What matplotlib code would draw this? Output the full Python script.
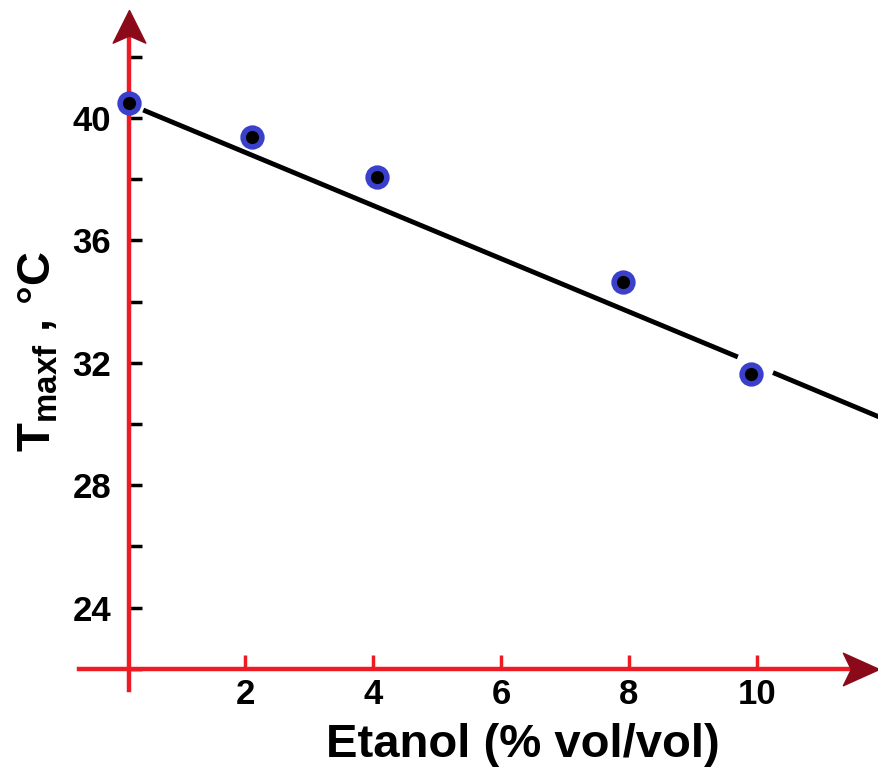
import numpy as np
import matplotlib
matplotlib.use('Agg')
import matplotlib.pyplot as plt
from matplotlib.path import Path

# data
ethanol = [0.19, 2.11, 4.06, 7.9, 9.9]
t_maxf = [40.5, 39.38, 38.07, 34.64, 31.63]
# drawn trend line (broken around the last point)
fit_x = [0.41, 9.7, np.nan, 10.25, 12.0]
fit_y = [40.26, 32.19, np.nan, 31.68, 30.15]
x_ticks = [2, 4, 6, 8, 10]
y_ticks = [24, 28, 32, 36, 40]
y_minor = [22, 26, 30, 34, 38, 42]

red = '#ed1c24'
dark = '#8b0a1a'
blue = '#3a40cc'

plt.rcParams['font.family'] = ['Liberation Sans', 'DejaVu Sans']
plt.rcParams['mathtext.fontset'] = 'custom'
plt.rcParams['mathtext.bf'] = 'Liberation Sans:bold'
plt.rcParams['mathtext.rm'] = 'Liberation Sans:bold'

fig = plt.figure(figsize=(8.79, 7.67), dpi=100)
ax = fig.add_axes([0, 0, 1, 1])
ax.set_xlim(-1.828, 11.906)
ax.set_ylim(18.79, 43.856)

for s in ['top', 'right']:
    ax.spines[s].set_visible(False)
ax.spines['left'].set_position(('data', 0.19))
ax.spines['bottom'].set_position(('data', 22))
ax.spines['left'].set_bounds(21.3, 42.8)
ax.spines['bottom'].set_bounds(-0.6, 11.6)
for s in ['left', 'bottom']:
    ax.spines[s].set_color(red)
    ax.spines[s].set_linewidth(3.2)

ax.set_xticks(x_ticks)
ax.set_yticks(y_ticks)
ax.set_yticks(y_minor, minor=True)
ax.tick_params(axis='x', direction='in', length=10, width=2.5, color=red,
               pad=7, labelsize=25)
ax.tick_params(axis='y', which='both', direction='in', length=9, width=2.5,
               color='black', pad=13, labelsize=25)
for lbl in ax.get_xticklabels() + ax.get_yticklabels():
    lbl.set_fontweight('bold')

# arrow heads
up = Path([(0, 0), (0.5, -1), (0, -0.78), (-0.5, -1), (0, 0)],
          [Path.MOVETO, Path.LINETO, Path.LINETO, Path.LINETO, Path.CLOSEPOLY])
right = Path([(0, 0), (-1, 0.45), (-0.78, 0), (-1, -0.45), (0, 0)],
             [Path.MOVETO, Path.LINETO, Path.LINETO, Path.LINETO, Path.CLOSEPOLY])
ax.plot([0.19], [43.53], marker=up, ms=47, color=dark, mec=dark, clip_on=False, zorder=6)
ax.plot([11.9], [22], marker=right, ms=52, color=dark, mec=dark, clip_on=False, zorder=6)

ax.plot(fit_x, fit_y, color='black', lw=3.5, solid_capstyle='butt', zorder=4)
ax.plot(ethanol, t_maxf, 'o', ms=13.5, mfc='black', mec=blue, mew=4,
        zorder=5, clip_on=False)

ax.text(0.595, 0.013, 'Etanol (% vol/vol)', transform=ax.transAxes,
        ha='center', va='baseline', fontsize=34, fontweight='bold')
ax.text(0.057, 0.541, r'$\mathbf{T}_{\mathbf{maxf}}$ , °C', transform=ax.transAxes,
        rotation=90, rotation_mode='anchor', ha='center', va='baseline',
        fontsize=34, fontweight='bold')

fig.savefig('out.png', dpi=100)
